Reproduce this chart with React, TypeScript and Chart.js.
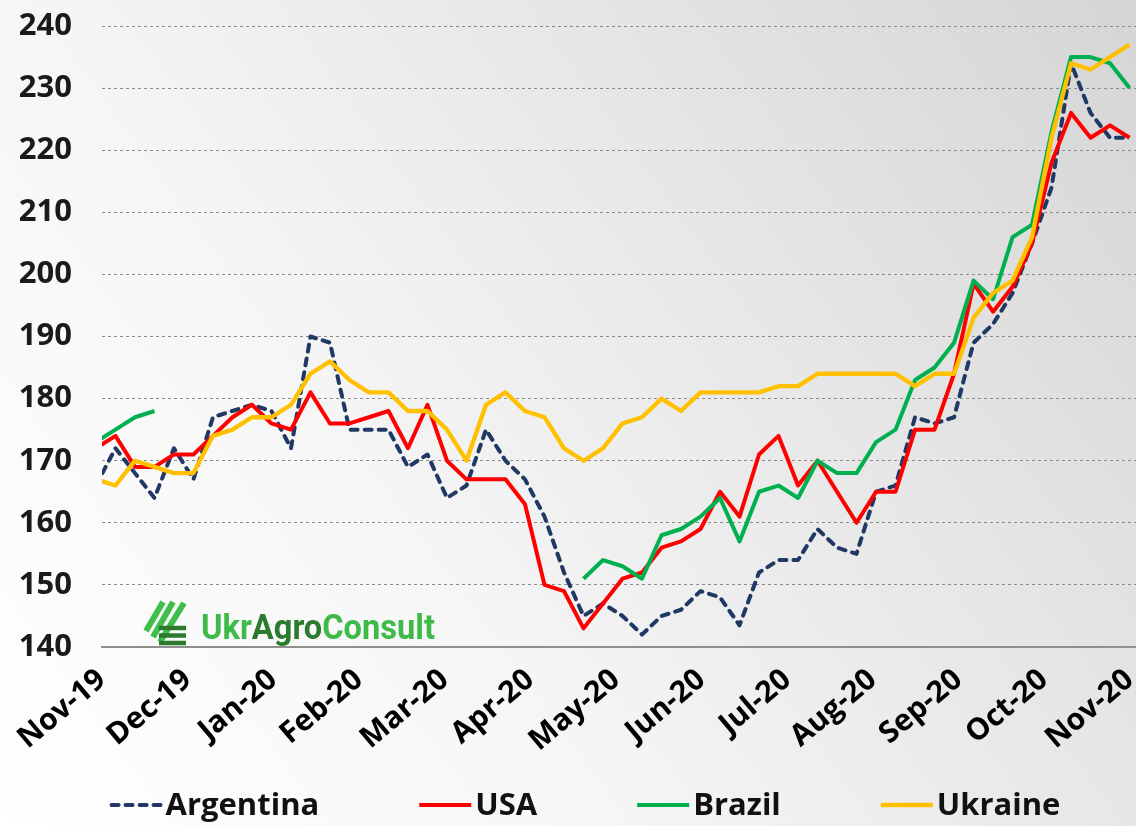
import React, { useEffect, useRef } from 'react';
import { Chart, registerables } from 'chart.js';

Chart.register(...registerables);

// ---- data (weekly observations, index 0..53) ----
const MONTH_LABELS = ['Nov-19', 'Dec-19', 'Jan-20', 'Feb-20', 'Mar-20', 'Apr-20', 'May-20', 'Jun-20', 'Jul-20', 'Aug-20', 'Sep-20', 'Oct-20', 'Nov-20'];

const ARGENTINA = [166, 172, 168, 164, 172, 167, 177, 178, 179, 178,
  172, 190, 189, 175, 175, 175, 169, 171, 164, 166,
  175, 170, 167, 161, 152, 145, 147, 145, 142, 145,
  146, 149, 148, 143.5, 152, 154, 154, 159, 156, 155,
  165, 166, 177, 176, 177, 189, 192, 197, 205, 214,
  234, 226, 222, 222];

const USA = [172, 174, 169, 169, 171, 171, 174, 177, 179, 176,
  175, 181, 176, 176, 177, 178, 172, 179, 170, 167,
  167, 167, 163, 150, 149, 143, 147, 151, 152, 156,
  157, 159, 165, 161, 171, 174, 166, 170, 165, 160,
  165, 165, 175, 175, 184, 198.5, 194, 198, 205, 218,
  226, 222, 224, 222];

const BRAZIL = [173, 175, 177, 178, null, null, null, null, null, null,
  null, null, null, null, null, null, null, null, null, null,
  null, null, null, null, null, 151, 154, 153, 151, 158,
  159, 161, 164, 157, 165, 166, 164, 170, 168, 168,
  173, 175, 183, 185, 189, 199, 196, 206, 208, 223,
  235, 235, 234, 230];

const UKRAINE = [167, 166, 170, 169, 168, 168, 174, 175, 177, 177,
  179, 184, 186, 183, 181, 181, 178, 178, 175, 170,
  179, 181, 178, 177, 172, 170, 172, 176, 177, 180,
  178, 181, 181, 181, 181, 182, 182, 184, 184, 184,
  184, 184, 182, 184, 184, 193, 197, 199, 206, 222,
  234, 233, 235, 237];

const SERIES_NAMES = ['Argentina', 'USA', 'Brazil', 'Ukraine'];
const SERIES_COLORS = ['#1f3864', '#ff0000', '#00b050', '#ffc000'];

const Y_MIN = 140;
const Y_MAX = 240;
const Y_STEP = 10;
// week-index positions of the first and last month labels, and the axis end
const X_FIRST_TICK = 0.31;
const X_LAST_TICK = 53;
const X_MAX = 53.33;

const FONT = "'Open Sans', 'DejaVu Sans', sans-serif";

const toPoints = (arr: (number | null)[]) => arr.map((y, i) => ({ x: i, y }));

const backgroundPlugin = {
  id: 'bgGradient',
  beforeDraw(chart: any) {
    const { ctx, width, height } = chart;
    const g = ctx.createLinearGradient(0, height, width, 0);
    g.addColorStop(0, '#ffffff');
    g.addColorStop(0.35, '#f6f6f6');
    g.addColorStop(0.65, '#e7e7e7');
    g.addColorStop(1, '#d5d5d5');
    ctx.save();
    ctx.fillStyle = g;
    ctx.fillRect(0, 0, width, height);
    ctx.restore();
  },
};

const logoPlugin = {
  id: 'logo',
  afterDraw(chart: any) {
    const { ctx } = chart;
    ctx.save();
    ctx.lineCap = 'butt';
    ctx.strokeStyle = '#3fbf4a';
    ctx.lineWidth = 6;
    const diags = [[146, 631, 163, 602], [153, 637, 173, 602], [160, 642, 184, 603]];
    diags.forEach(([a, b, c, d]) => {
      ctx.beginPath();
      ctx.moveTo(a, b);
      ctx.lineTo(c, d);
      ctx.stroke();
    });
    ctx.strokeStyle = '#2d7a2f';
    ctx.lineWidth = 4.5;
    [628, 635.5, 643].forEach((y) => {
      ctx.beginPath();
      ctx.moveTo(159, y);
      ctx.lineTo(186, y);
      ctx.stroke();
    });
    const parts: [string, string][] = [['Ukr', '#3dba47'], ['Agro', '#2b7a2e'], ['Consult', '#3dba47']];
    ctx.font = "bold 35px Roboto, 'DejaVu Sans', sans-serif";
    ctx.textBaseline = 'alphabetic';
    ctx.textAlign = 'left';
    const total = parts.reduce((s, [t]) => s + ctx.measureText(t).width, 0);
    const sx = 234 / total;
    ctx.translate(201, 639);
    ctx.scale(sx, 1);
    let x = 0;
    parts.forEach(([t, c]) => {
      ctx.fillStyle = c;
      ctx.fillText(t, x, 0);
      x += ctx.measureText(t).width;
    });
    ctx.restore();
  },
};

const legendPlugin = {
  id: 'customLegend',
  afterDraw(chart: any) {
    const { ctx } = chart;
    const ds = chart.data.datasets;
    ctx.save();
    ctx.font = `bold 31px ${FONT}`;
    ctx.textBaseline = 'middle';
    ctx.textAlign = 'left';
    const sampleW = 52;
    const textGap = 4;
    const itemGap = 100;
    const widths = ds.map((d: any) => sampleW + textGap + ctx.measureText(d.label).width);
    const total = widths.reduce((a: number, b: number) => a + b, 0) + itemGap * (ds.length - 1);
    let x = chart.width / 2 + 17 - total / 2;
    const y = 805;
    ds.forEach((d: any, i: number) => {
      ctx.save();
      ctx.strokeStyle = d.borderColor;
      ctx.lineWidth = d.borderWidth;
      ctx.lineCap = d.borderCapStyle || 'butt';
      ctx.setLineDash(d.borderDash || []);
      ctx.beginPath();
      ctx.moveTo(x + (d.borderDash ? 2 : 0), y);
      ctx.lineTo(x + sampleW, y);
      ctx.stroke();
      ctx.restore();
      ctx.fillStyle = '#111111';
      ctx.fillText(d.label, x + sampleW + textGap, y + 1);
      x += widths[i] + itemGap;
    });
    ctx.restore();
  },
};

export default function App() {
  const canvasRef = useRef<HTMLCanvasElement | null>(null);

  useEffect(() => {
    if (!canvasRef.current) return;
    const seriesData = [ARGENTINA, USA, BRAZIL, UKRAINE];
    const chart = new Chart(canvasRef.current, {
      type: 'line',
      data: {
        datasets: seriesData.map((arr, i) => ({
          label: SERIES_NAMES[i],
          data: toPoints(arr),
          borderColor: SERIES_COLORS[i],
          backgroundColor: SERIES_COLORS[i],
          borderWidth: i === 3 ? 4.3 : 4,
          borderDash: i === 0 ? [7, 7] : undefined,
          borderCapStyle: i === 0 ? 'round' : 'butt',
          borderJoinStyle: 'round',
          pointRadius: 0,
          tension: 0,
          spanGaps: false,
          order: 3 - i,
          clip: 0,
        })) as any,
      },
      options: {
        animation: false,
        responsive: false,
        maintainAspectRatio: false,
        layout: { padding: { top: 26, bottom: 56, left: 0, right: 0 } },
        plugins: {
          legend: { display: false },
          tooltip: { enabled: false },
        },
        scales: {
          x: {
            type: 'linear',
            min: X_FIRST_TICK,
            max: X_MAX,
            grid: { display: false, drawTicks: false },
            border: { display: true, color: '#8f8f8f', width: 2 },
            afterBuildTicks: (scale: any) => {
              const n = MONTH_LABELS.length - 1;
              scale.ticks = MONTH_LABELS.map((_, k) => ({ value: X_FIRST_TICK + (k * (X_LAST_TICK - X_FIRST_TICK)) / n }));
            },
            afterFit: (scale: any) => {
              scale.height = 123;
              scale.paddingRight = 0;
              scale.paddingLeft = 0;
            },
            ticks: {
              autoSkip: false,
              maxRotation: 40,
              minRotation: 40,
              padding: 15,
              color: '#000000',
              font: { family: FONT, size: 30, weight: 'bold' },
              callback: (_v: any, idx: number) => MONTH_LABELS[idx],
            },
          },
          y: {
            min: Y_MIN,
            max: Y_MAX,
            grid: { color: '#8c8c8c', lineWidth: 1, drawTicks: false },
            border: { display: false, dash: [3, 3] },
            afterFit: (scale: any) => {
              scale.width = 102;
              scale.paddingTop = 0;
              scale.paddingBottom = 0;
            },
            ticks: {
              stepSize: Y_STEP,
              padding: 30,
              color: '#1a1a1a',
              font: { family: FONT, size: 31, weight: 'bold' },
            },
          },
        },
      } as any,
      plugins: [backgroundPlugin, logoPlugin, legendPlugin],
    });
    return () => chart.destroy();
  }, []);

  return (
    <div style={{ position: 'fixed', left: 0, top: 0, width: 1136, height: 826 }}>
      <canvas ref={canvasRef} width={1136} height={826} style={{ width: 1136, height: 826, display: 'block' }} />
    </div>
  );
}
